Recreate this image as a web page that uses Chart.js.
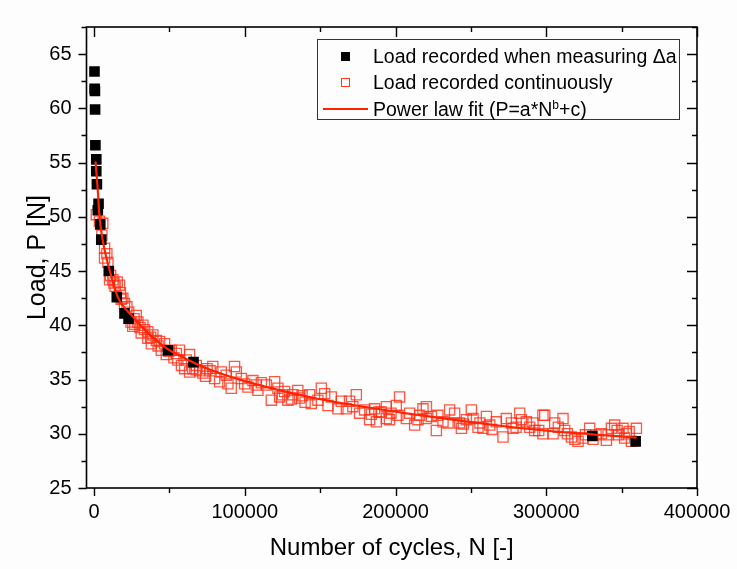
<!DOCTYPE html>
<html>
<head>
<meta charset="utf-8">
<script src="https://cdn.jsdelivr.net/npm/chart.js@4.4.1/dist/chart.umd.min.js"></script>
<style>
  html, body { margin: 0; padding: 0; background: #fdfdfd; }
  #wrap { position: relative; width: 737px; height: 569px; }
  #legend {
    position: absolute; left: 317px; top: 39px; width: 361px; height: 79px;
    border: 1px solid #333; background: #fdfdfd;
    font-family: "Liberation Sans", Arial, sans-serif; font-size: 19.5px; color: #000;
  }
  #legend .row { position: absolute; left: 0; height: 24px; line-height: 24px; }
  #legend .txt { position: absolute; left: 55px; white-space: nowrap; }
  #legend .sym { position: absolute; }
  #legend sup { font-size: 12px; vertical-align: 7px; line-height: 0; }
</style>
</head>
<body>
<div id="wrap">
  <canvas id="chart" width="737" height="569"></canvas>
  <div id="legend">
    <div class="row" style="top:4px">
      <span class="sym" style="left:23px;top:8px;width:9px;height:9px;background:#000"></span>
      <span class="txt">Load recorded when measuring &Delta;a</span>
    </div>
    <div class="row" style="top:30px">
      <span class="sym" style="left:23px;top:8px;width:7px;height:7px;border:1px solid #ff3a1a"></span>
      <span class="txt">Load recorded continuously</span>
    </div>
    <div class="row" style="top:57px">
      <span class="sym" style="left:5px;top:11px;width:45px;height:2px;background:#ff2200"></span>
      <span class="txt">Power law fit (P=a*N<sup>b</sup>+c)</span>
    </div>
  </div>
</div>
<script>
// axis ticks
const xTicks = [0, 100000, 200000, 300000, 400000];
const yTicks = [25, 30, 35, 40, 45, 50, 55, 60, 65];

// load recorded when measuring crack length
const measN = [300, 400, 600, 700, 900, 1500, 1500, 1900, 2500, 3000, 4100, 4800, 9800, 15100, 20200, 22900, 49000, 66000, 330600, 359300];
const measP = [63.4, 61.8, 61.6, 59.9, 56.6, 55.3, 54.2, 53.0, 50.6, 51.2, 49.3, 47.9, 45.0, 42.6, 41.1, 40.6, 37.7, 36.6, 29.8, 29.3];

// load recorded continuously
const contN = [1500, 3600, 5800, 5200, 7000, 6970, 8500, 9200, 10300, 11000, 12500, 13200, 14000, 15400, 16900, 17500, 18000, 19100, 20200, 21800,
  23000, 24500, 25700, 26500, 27000, 28000, 29100, 30500, 31300, 32400, 33500, 35700, 35700, 37500, 38000, 39000, 41300, 42500, 43500, 44600, 46800, 47900,
  49500, 51200, 53000, 54600, 55600, 56700, 58000, 60100, 61200, 63400, 63400, 65500, 67800, 67800, 70000, 72200, 74000, 75000, 77000, 78800, 80000, 83300, 84400,
  87700, 88800, 91000, 93200, 94400, 97700, 99900, 102100, 105400, 107600, 108700, 111000, 114300, 117600, 119800,
  122000, 123100, 125000, 126400, 128600, 131000, 132000, 135200, 136400, 138000, 140000, 143000, 144100, 148500, 150800, 153000, 155200,
  157400, 161800, 164000, 167400, 169500, 171700, 174000, 176200, 179500, 182800, 184000, 186100, 187300, 189000, 190500, 193900,
  193900, 196000, 197000, 200500, 201600, 202700, 207200, 209400, 212700, 214900, 216000, 218200, 220500, 220500, 223800,
  227100, 228100, 231500, 234800, 235900, 239200, 242500, 243700, 245000, 247000, 250300, 251400, 254700, 256000, 258000, 260300,
  262500, 264000, 266900, 271300, 273500, 276900, 277900, 280000, 282400, 283500, 286800, 289000, 291200, 292300, 295000, 297800, 297800, 299000,
  304500, 305600, 308000, 311100, 312200, 314000, 316700, 319000, 321100, 324400, 326000, 328800, 331000, 333000, 336600, 339900, 341000, 343200, 345400, 347000, 348000,
  350900, 352000, 353200, 355000, 356500, 359800];
const contP = [50.2, 49.6, 49.4, 48.3, 47.1, 46.2, 46.6, 45.8, 44.2, 44.6, 44.2, 43.9, 43.6, 44.0, 43.7, 43.0, 42.4, 42.5, 42.0, 41.7,
  41.2, 40.3, 39.9, 40.6, 40.1, 40.9, 40.3, 39.8, 39.3, 40.0, 39.6, 39.4, 38.8, 38.9, 38.3, 39.1, 38.6, 38.1, 38.5, 37.7, 38.3, 37.3,
  37.6, 37.7, 37.0, 37.4, 36.8, 37.7, 36.3, 36.0, 36.8, 37.3, 35.7, 36.0, 36.3, 35.9, 35.8, 35.6, 35.3, 36.0, 35.8, 36.2, 35.1, 34.8, 35.7,
  35.4, 34.6, 34.2, 36.2, 35.7, 35.1, 34.6, 34.3, 34.9, 34.5, 34.0, 34.7, 34.5, 33.1, 34.8,
  34.2, 33.4, 33.6, 33.9, 33.1, 33.2, 33.6, 34.0, 33.3, 33.5, 32.9, 33.6, 32.8, 33.1, 34.2, 33.7, 32.6,
  33.4, 32.3, 33.0, 32.3, 33.0, 32.5, 33.6, 31.9, 32.2, 31.3, 31.8, 32.3, 31.1, 32.0, 32.0, 31.4,
  32.5, 31.3, 31.9, 32.6, 31.7, 33.4, 31.4, 31.9, 30.8, 31.3, 31.7, 32.3, 31.4, 32.5, 31.6,
  30.3, 31.7, 31.1, 31.0, 32.2, 31.9, 31.0, 30.5, 30.9, 31.3, 32.2, 31.4, 30.6, 31.0, 30.5, 31.6,
  30.8, 30.4, 31.1, 29.7, 31.4, 31.0, 30.5, 30.6, 31.9, 31.3, 31.1, 30.6, 31.0, 30.3, 30.3, 31.7, 30.0, 31.7,
  30.0, 31.0, 30.6, 31.4, 30.3, 30.0, 29.7, 29.5, 29.3, 29.6, 29.9, 30.5, 29.5, 29.9, 30.0, 29.4, 29.9, 30.5, 30.8, 30.3, 29.9,
  30.5, 29.6, 30.0, 30.2, 29.3, 30.5];

// power law fit curve
const fitN = [1000, 2500, 3650, 5800, 10300, 15800, 25700, 35700, 47900, 61200, 70000, 100000, 146000, 183000, 222000, 260000, 299000, 330000, 360000];
const fitP = [55.1, 52.4, 50.0, 47.8, 45.1, 42.6, 40.8, 39.3, 37.9, 36.9, 36.3, 34.85, 33.3, 32.4, 31.6, 30.9, 30.3, 29.95, 29.65];

const toPts = (xs, ys) => xs.map((v, i) => ({ x: v, y: ys[i] }));

const FONT = '"Liberation Sans", Arial, sans-serif';

// frame with inward/outward major and minor ticks (Origin style)
const frameTicks = {
  id: 'frameTicks',
  afterDraw(chart) {
    const { ctx, chartArea: a, scales: { x, y } } = chart;
    ctx.save();
    ctx.strokeStyle = '#000';
    ctx.lineWidth = 1.6;
    ctx.strokeRect(a.left, a.top, a.right - a.left, a.bottom - a.top);
    ctx.lineWidth = 1.4;
    ctx.beginPath();
    xTicks.forEach((v, i) => {
      const px = Math.round(x.getPixelForValue(v)) + 0.5;
      ctx.moveTo(px, a.bottom); ctx.lineTo(px, a.bottom + 8);
      ctx.moveTo(px, a.top); ctx.lineTo(px, a.top + 10);
      if (i < xTicks.length - 1) {
        const m = Math.round(x.getPixelForValue((v + xTicks[i + 1]) / 2)) + 0.5;
        ctx.moveTo(m, a.bottom); ctx.lineTo(m, a.bottom + 5);
        ctx.moveTo(m, a.top); ctx.lineTo(m, a.top + 5);
      }
    });
    const yMinor = yTicks.map(v => v + 2.5);
    yTicks.forEach(v => {
      const py = Math.round(y.getPixelForValue(v)) + 0.5;
      ctx.moveTo(a.left, py); ctx.lineTo(a.left - 8, py);
      ctx.moveTo(a.right, py); ctx.lineTo(a.right - 10, py);
    });
    yMinor.forEach(v => {
      const py = Math.round(y.getPixelForValue(v)) + 0.5;
      ctx.moveTo(a.left, py); ctx.lineTo(a.left - 5, py);
      ctx.moveTo(a.right, py); ctx.lineTo(a.right - 5, py);
    });
    ctx.stroke();
    ctx.restore();
  }
};

const ctx = document.getElementById('chart').getContext('2d');
const chart = new Chart(ctx, {
  type: 'scatter',
  data: {
    datasets: [
      {
        label: 'Power law fit (P=a*N^b+c)',
        data: toPts(fitN, fitP),
        showLine: true,
        borderColor: '#ff2200',
        borderWidth: 2.2,
        pointRadius: 0,
        cubicInterpolationMode: 'monotone',
        order: 0
      },
      {
        label: 'Load recorded when measuring Δa',
        data: toPts(measN, measP),
        pointStyle: 'rect',
        pointRadius: 7.5,
        backgroundColor: '#000',
        borderColor: '#000',
        borderWidth: 0,
        order: 1
      },
      {
        label: 'Load recorded continuously',
        data: toPts(contN, contP),
        pointStyle: 'rect',
        pointRadius: 7.2,
        backgroundColor: 'rgba(0,0,0,0)',
        borderColor: 'rgba(255,45,20,0.8)',
        borderWidth: 1.3,
        order: 2
      }
    ]
  },
  options: {
    responsive: false,
    animation: false,
    layout: { padding: { top: 27, right: 40, left: 0, bottom: 0 } },
    plugins: {
      legend: { display: false },
      tooltip: { enabled: false }
    },
    scales: {
      x: {
        type: 'linear',
        min: -5000,
        max: 400000,
        afterFit: s => { s.height = 81; s.paddingLeft = 0; s.paddingRight = 0; },
        afterBuildTicks: s => { s.ticks = xTicks.map(v => ({ value: v })); },
        grid: { display: false, drawTicks: false },
        border: { display: false },
        ticks: {
          padding: 12,
          color: '#000',
          font: { family: FONT, size: 20 },
          maxRotation: 0,
          callback: v => String(v)
        },
        title: {
          display: true,
          text: 'Number of cycles, N [-]',
          color: '#000',
          font: { family: FONT, size: 24 },
          padding: { top: 0, bottom: 6 }
        }
      },
      y: {
        type: 'linear',
        min: 25,
        max: 67.5,
        afterFit: s => { s.width = 86.5; s.paddingTop = 0; s.paddingBottom = 0; },
        afterBuildTicks: s => { s.ticks = yTicks.map(v => ({ value: v })); },
        grid: { display: false, drawTicks: false },
        border: { display: false },
        ticks: {
          padding: 15,
          color: '#000',
          font: { family: FONT, size: 20 }
        },
        title: {
          display: true,
          text: 'Load, P [N]',
          color: '#000',
          font: { family: FONT, size: 25 },
          padding: { top: 23, bottom: 0 }
        }
      }
    }
  },
  plugins: [frameTicks]
});
</script>
</body>
</html>
